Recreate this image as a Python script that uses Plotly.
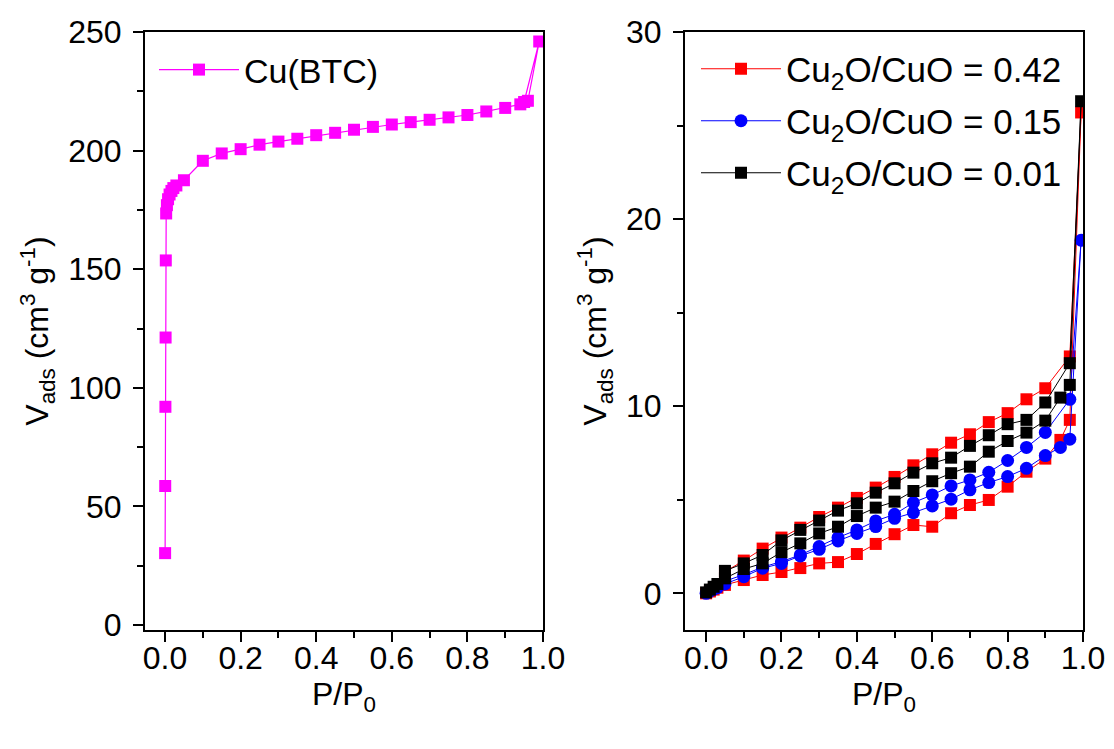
import plotly.graph_objects as go

# ---------------- Data ----------------
# Left panel: Cu(BTC) isotherm
btc_p = [0.0002, 0.0005, 0.001, 0.0015, 0.002, 0.003, 0.005, 0.008, 0.012, 0.017,
         0.022, 0.03, 0.05, 0.1, 0.15, 0.2, 0.25, 0.3, 0.35, 0.4, 0.45, 0.5, 0.55,
         0.6, 0.65, 0.7, 0.75, 0.8, 0.85, 0.9, 0.94, 0.96, 0.99, 0.95]
btc_v = [30.3, 58.6, 92.0, 121.2, 153.7, 173.5, 177.0, 179.5, 181.5, 183.0,
         184.2, 185.3, 187.5, 195.7, 198.8, 200.6, 202.5, 203.8, 205.0, 206.5,
         207.5, 208.8, 210.0, 211.0, 212.0, 213.0, 214.0, 215.0, 216.5, 218.0,
         219.5, 221.0, 246.0, 220.5]

# Right panel: adsorption (0 -> 0.995) then desorption (0.995 -> 0.05)
p_ads = [0.0, 0.01, 0.02, 0.03, 0.05, 0.1, 0.15, 0.2, 0.25, 0.3, 0.35, 0.4, 0.45,
         0.5, 0.55, 0.6, 0.65, 0.7, 0.75, 0.8, 0.85, 0.9, 0.94, 0.965, 0.995]
p_des = [0.965, 0.9, 0.85, 0.8, 0.75, 0.7, 0.65, 0.6, 0.55, 0.5, 0.45, 0.4, 0.35,
         0.3, 0.25, 0.2, 0.15, 0.1, 0.05]

v042_ads = [0.0, 0.1, 0.2, 0.3, 0.45, 0.71, 0.98, 1.14, 1.35, 1.6, 1.67, 2.1, 2.64,
            3.16, 3.65, 3.56, 4.28, 4.72, 4.99, 5.7, 6.5, 7.2, 8.2, 9.27, 25.7]
v042_des = [12.66, 10.96, 10.37, 9.63, 9.15, 8.5, 8.05, 7.43, 6.84, 6.22, 5.65,
            5.1, 4.58, 4.08, 3.51, 2.98, 2.39, 1.75, 1.15]

v015_ads = [0.0, 0.12, 0.22, 0.3, 0.5, 0.89, 1.34, 1.6, 2.0, 2.35, 2.8, 3.2, 3.57,
            4.01, 4.31, 4.67, 5.03, 5.53, 5.92, 6.24, 6.68, 7.36, 7.8, 8.24, 18.87]
v015_des = [10.37, 8.6, 7.8, 7.1, 6.47, 6.06, 5.74, 5.26, 4.85, 4.22, 3.87, 3.39,
            2.98, 2.5, 2.05, 1.7, 1.4, 1.0, 0.65]

v001_ads = [0.05, 0.2, 0.35, 0.5, 0.8, 1.3, 1.6, 2.2, 2.67, 3.2, 3.56, 4.13, 4.58,
            4.9, 5.47, 5.99, 6.42, 6.77, 7.57, 8.14, 8.59, 9.23, 10.46, 11.14, 26.3]
v001_des = [12.3, 10.2, 9.27, 9.04, 8.45, 7.88, 7.25, 6.95, 6.45, 5.88, 5.38, 4.81,
            4.42, 3.89, 3.39, 2.83, 2.05, 1.6, 1.2]

names = ["Cu<sub>2</sub>O/CuO = 0.42", "Cu<sub>2</sub>O/CuO = 0.15",
         "Cu<sub>2</sub>O/CuO = 0.01"]

# ---------------- Figure ----------------
FONT = "Arial, Liberation Sans, sans-serif"
W, H = 1114, 749
fig = go.Figure()

fig.add_trace(go.Scatter(
    x=btc_p, y=btc_v, mode="lines+markers", name="Cu(BTC)",
    line=dict(color="#FF00FF", width=1.2),
    marker=dict(symbol="square", size=12, color="#FF00FF"),
    xaxis="x", yaxis="y", legend="legend", showlegend=True))

series = [
    (names[0], v042_ads, v042_des, "#FF0000", "square", 12, "legend2"),
    (names[1], v015_ads, v015_des, "#0000FF", "circle", 13, "legend3"),
    (names[2], v001_ads, v001_des, "#000000", "square", 12, "legend4"),
]
for nm, ads, des, col, sym, sz, lg in series:
    fig.add_trace(go.Scatter(
        x=p_ads + p_des, y=ads + des, mode="lines+markers", name=nm,
        line=dict(color=col, width=1),
        marker=dict(symbol=sym, size=sz, color=col),
        xaxis="x2", yaxis="y2", legend=lg, showlegend=True))

# page body adds an 8 px offset; positions below are in figure pixels
ydom = [1 - 622 / H, 1 - 24 / H]
axis_common = dict(
    showline=True, linecolor="black", linewidth=2, mirror=True,
    ticks="outside", ticklen=10, tickwidth=2, tickcolor="black",
    showgrid=False, zeroline=False, automargin=False,
    tickfont=dict(family=FONT, size=32, color="black"),
)
ytitle = "V<sub>ads</sub> (cm<sup>3</sup> g<sup>-1</sup>)"
xtitle = "P/P<sub>0</sub>"

fig.update_layout(
    width=W, height=H, showlegend=True,
    margin=dict(l=0, r=0, t=0, b=0, autoexpand=False),
    paper_bgcolor="white", plot_bgcolor="white",
    font=dict(family=FONT, size=32, color="black"),
    xaxis=dict(domain=[137 / W, 535 / W], range=[-0.053, 1.0],
               dtick=0.2, tickformat=".1f", anchor="y",
               ticklabelstandoff=-11,
               minor=dict(ticks="outside", ticklen=6, tickwidth=2, dtick=0.1,
                          tickcolor="black"),
               title=dict(text=xtitle, standoff=0, font=dict(family=FONT, size=32)),
               **axis_common),
    yaxis=dict(domain=ydom, range=[-2.1, 250], dtick=50, anchor="x",
               ticklabelstandoff=5,
               minor=dict(ticks="outside", ticklen=6, tickwidth=2, dtick=25,
                          tickcolor="black"),
               title=dict(text=ytitle, standoff=10, font=dict(family=FONT, size=32)),
               **axis_common),
    xaxis2=dict(domain=[677 / W, 1075 / W], range=[-0.056, 1.0],
                dtick=0.2, tickformat=".1f", anchor="y2",
                ticklabelstandoff=-11,
                minor=dict(ticks="outside", ticklen=6, tickwidth=2, dtick=0.1,
                           tickcolor="black"),
                title=dict(text=xtitle, standoff=0, font=dict(family=FONT, size=32)),
                **axis_common),
    yaxis2=dict(domain=ydom, range=[-1.96, 30], dtick=10, anchor="x2",
                ticklabelstandoff=5,
                minor=dict(ticks="outside", ticklen=6, tickwidth=2, dtick=5,
                           tickcolor="black"),
                title=dict(text=ytitle, standoff=10, font=dict(family=FONT, size=32)),
                **axis_common),
)

leg_common = dict(bgcolor="rgba(0,0,0,0)", borderwidth=0, xanchor="left",
                  yanchor="middle", itemwidth=80, visible=True)
fig.update_layout(
    legend=dict(x=146 / W, y=1 - 62 / H,
                font=dict(family=FONT, size=34, color="black"), **leg_common),
    legend2=dict(x=688 / W, y=1 - 61 / H,
                 font=dict(family=FONT, size=35, color="black"), **leg_common),
    legend3=dict(x=688 / W, y=1 - 113 / H,
                 font=dict(family=FONT, size=35, color="black"), **leg_common),
    legend4=dict(x=688 / W, y=1 - 165 / H,
                 font=dict(family=FONT, size=35, color="black"), **leg_common),
)

fig.write_html("out.html")
